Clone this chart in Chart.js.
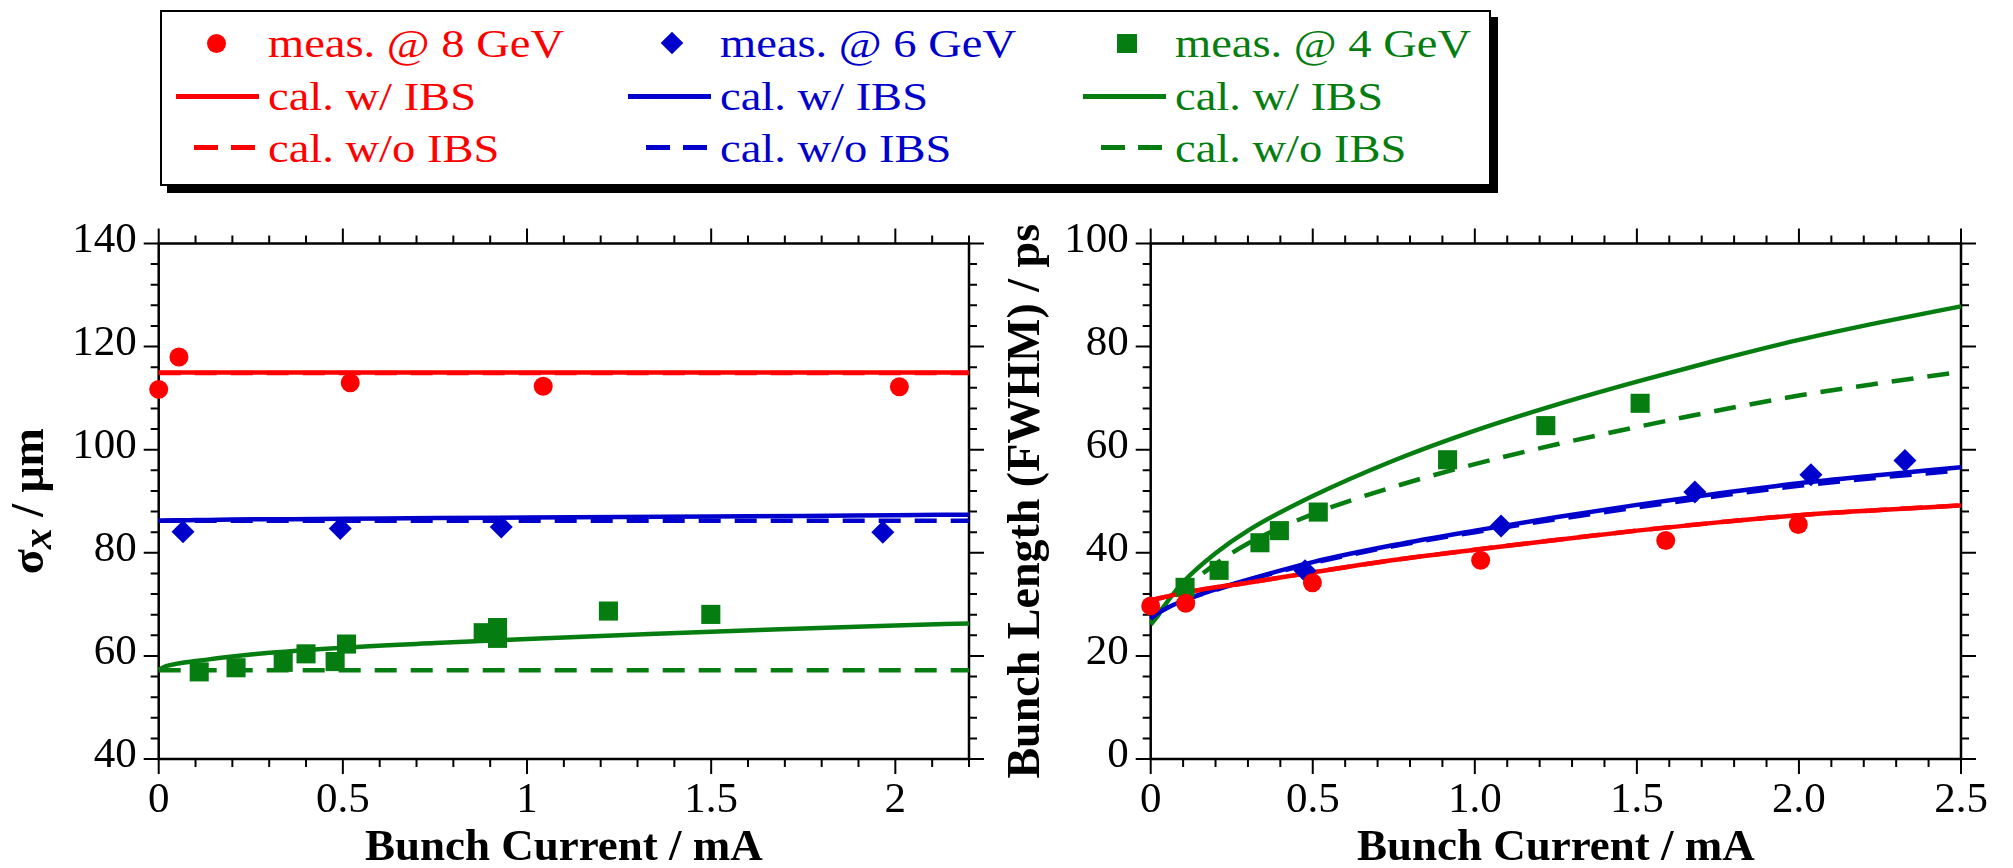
<!DOCTYPE html>
<html>
<head>
<meta charset="utf-8">
<title>Bunch current dependence</title>
<script src="https://cdn.jsdelivr.net/npm/chart.js@4.4.1/dist/chart.umd.min.js"></script>
<style>
  html, body { margin: 0; padding: 0; background: #fff; }
  body { position: relative; width: 2013px; height: 868px; overflow: hidden;
         font-family: "Liberation Serif", "Times New Roman", serif; }
  canvas { position: absolute; top: 200px; }
  #leftChart { left: 0; }
  #rightChart { left: 1000px; }
  #legendBox { position: absolute; left: 160px; top: 10px; width: 1327px; height: 172px;
               border: 2px solid #000; box-shadow: 7px 7px 0 #000; background: #fff; }
  .lab { position: absolute; font-size: 40px; line-height: 40px; white-space: nowrap;
         transform: scaleX(1.163); transform-origin: 0 0; }
  .mk { position: absolute; }
</style>
</head>
<body>
<div id="legendBox"></div>
<div id="legend"></div>
<canvas id="leftChart" width="1000" height="668"></canvas>
<canvas id="rightChart" width="1013" height="668"></canvas>
<script>
Chart.defaults.font.family = "'Liberation Serif', 'Times New Roman', serif";
Chart.defaults.color = '#000';

const FAMILY = "'Liberation Serif', 'Times New Roman', serif";
const RED = '#ff0000';
const BLUE = '#0000cc';
const GREEN = '#067d10';

// ---- left panel: horizontal beam size sigma_x (um) ----
const sxCur8 = [0.0, 0.055, 0.52, 1.044, 2.011];
const sxMeas8 = [111.7, 118.0, 113.0, 112.3, 112.2];
const sxCur6 = [0.066, 0.493, 0.93, 1.966];
const sxMeas6 = [84.1, 84.7, 85.0, 84.0];
const sxCur4 = [0.11, 0.21, 0.338, 0.40, 0.479, 0.51, 0.881, 0.92, 0.92, 1.221, 1.499];
const sxMeas4 = [56.9, 57.7, 58.75, 60.4, 58.9, 62.3, 64.5, 65.5, 63.4, 68.7, 68.05];

const sxCalCur = [0, 0.02, 0.05, 0.1, 0.2, 0.3, 0.5, 0.75, 1.0, 1.25, 1.5, 1.75, 2.0, 2.2];
const sxCal8 = [115.0, 115.0, 115.0, 115.0, 115.0, 115.0, 115.0, 115.0, 115.0, 115.0, 115.0, 115.0, 115.0, 115.0];
const sxCal8NoIbs = [114.9, 114.9, 114.9, 114.9, 114.9, 114.9, 114.9, 114.9, 114.9, 114.9, 114.9, 114.9, 114.9, 114.9];
const sxCal6 = [86.2, 86.25, 86.3, 86.35, 86.45, 86.5, 86.6, 86.75, 86.85, 86.95, 87.05, 87.15, 87.3, 87.4];
const sxCal6NoIbs = [86.2, 86.2, 86.2, 86.2, 86.2, 86.2, 86.2, 86.2, 86.2, 86.2, 86.2, 86.2, 86.2, 86.2];
const sxCal4 = [57.3, 58.0, 58.5, 59.0, 59.9, 60.6, 61.6, 62.5, 63.3, 64.0, 64.7, 65.3, 65.9, 66.3];
const sxCal4NoIbs = [57.2, 57.2, 57.2, 57.2, 57.2, 57.2, 57.2, 57.2, 57.2, 57.2, 57.2, 57.2, 57.2, 57.2];

// ---- right panel: bunch length FWHM (ps) ----
const blCur8 = [0.0, 0.108, 0.499, 1.018, 1.589, 1.998];
const blMeas8 = [29.7, 30.2, 34.2, 38.55, 42.4, 45.5];
const blCur6 = [0.476, 1.081, 1.679, 2.037, 2.327];
const blMeas6 = [36.5, 45.2, 51.8, 55.15, 57.9];
const blCur4 = [0.106, 0.211, 0.337, 0.397, 0.517, 0.916, 1.219, 1.510];
const blMeas4 = [33.3, 36.6, 41.95, 44.3, 47.9, 58.05, 64.67, 69.0];

const blCalCur = [0, 0.02, 0.05, 0.1, 0.2, 0.3, 0.5, 0.75, 1.0, 1.25, 1.5, 1.75, 2.0, 2.25, 2.5];
const blCal8 = [30.8, 31.1, 31.5, 32.2, 33.3, 34.2, 36.2, 38.6, 40.6, 42.5, 44.3, 45.9, 47.3, 48.3, 49.2];
const blCal8NoIbs = [30.8, 31.1, 31.5, 32.2, 33.3, 34.2, 36.2, 38.6, 40.6, 42.5, 44.3, 45.9, 47.3, 48.3, 49.2];
const blCal6 = [27.2, 28.2, 29.3, 30.7, 32.9, 34.8, 38.2, 41.5, 44.3, 46.9, 49.3, 51.5, 53.5, 55.1, 56.6];
const blCal6NoIbs = [27.2, 28.2, 29.3, 30.7, 32.8, 34.7, 38.0, 41.3, 44.0, 46.5, 48.8, 51.0, 53.0, 54.6, 56.0];
const blCal4 = [26.1, 27.6, 30.4, 34.3, 39.9, 44.3, 51.0, 57.9, 63.7, 68.7, 73.2, 77.4, 81.3, 84.7, 87.8];
const blCal4NoIbs = [26.5, 28.0, 30.2, 33.0, 37.8, 41.8, 47.5, 52.8, 57.2, 61.0, 64.4, 67.6, 70.5, 72.9, 75.1];

const energies = ['8 GeV', '6 GeV', '4 GeV'];
const colors = [RED, BLUE, GREEN];

function pts(xs, ys) {
  return xs.map((x, i) => ({ x: x, y: ys[i] }));
}

function measSet(label, xs, ys, color, style, radius) {
  return {
    label: label,
    data: pts(xs, ys),
    showLine: false,
    pointStyle: style,
    pointRadius: radius,
    pointHoverRadius: radius,
    pointBackgroundColor: color,
    pointBorderColor: color,
    pointBorderWidth: 0,
    clip: false
  };
}

function calcSet(label, xs, ys, color, dashed) {
  return {
    label: label,
    data: pts(xs, ys),
    showLine: true,
    borderColor: color,
    borderWidth: 4.5,
    borderDash: dashed ? [22, 14] : [],
    borderCapStyle: 'butt',
    pointRadius: 0,
    cubicInterpolationMode: 'monotone',
    fill: false,
    clip: false
  };
}

function isMajor(v, every) {
  const r = v / every;
  return Math.abs(r - Math.round(r)) < 1e-6;
}

// box around the plot area, outward ticks on all four sides,
// and the numbers under the bottom axis
const frameTicks = {
  id: 'frameTicks',
  beforeDatasetsDraw(chart) {
    const { ctx, chartArea: a, scales } = chart;
    ctx.save();
    ctx.strokeStyle = '#000';
    ctx.lineWidth = 2.5;
    ctx.strokeRect(a.left, a.top, a.right - a.left, a.bottom - a.top);
    ctx.lineWidth = 2;
    ctx.beginPath();
    scales.x.ticks.forEach(t => {
      const px = scales.x.getPixelForValue(t.value);
      const len = t.label !== '' ? 15 : 8;
      ctx.moveTo(px, a.bottom); ctx.lineTo(px, a.bottom + len);
      ctx.moveTo(px, a.top); ctx.lineTo(px, a.top - len);
    });
    scales.y.ticks.forEach(t => {
      const py = scales.y.getPixelForValue(t.value);
      const len = t.label !== '' ? 15 : 8;
      ctx.moveTo(a.left, py); ctx.lineTo(a.left - len, py);
      ctx.moveTo(a.right, py); ctx.lineTo(a.right + len, py);
    });
    ctx.stroke();

    ctx.fillStyle = '#000';
    ctx.font = '43px ' + FAMILY;
    ctx.textAlign = 'center';
    ctx.textBaseline = 'alphabetic';
    scales.x.ticks.forEach(t => {
      if (t.label === '') return;
      ctx.fillText(t.label, scales.x.getPixelForValue(t.value), a.bottom + 53);
    });
    ctx.restore();
  }
};

// sigma_x axis title with the italic subscript
const sigmaTitle = {
  id: 'sigmaTitle',
  afterDraw(chart) {
    const { ctx, chartArea: a } = chart;
    const parts = [
      { t: '\u03c3', f: 'bold 46px ' + FAMILY, dy: 0 },
      { t: 'x', f: 'italic bold 42px ' + FAMILY, dy: 8 },
      { t: ' / \u03bcm', f: 'bold 46px ' + FAMILY, dy: 0 }
    ];
    ctx.save();
    let total = 0;
    parts.forEach(p => { ctx.font = p.f; p.w = ctx.measureText(p.t).width; total += p.w; });
    ctx.translate(43, (a.top + a.bottom) / 2);
    ctx.rotate(-Math.PI / 2);
    ctx.fillStyle = '#000';
    ctx.textBaseline = 'alphabetic';
    let x = -total / 2;
    parts.forEach(p => {
      ctx.font = p.f;
      ctx.fillText(p.t, x, p.dy);
      x += p.w;
    });
    ctx.restore();
  }
};

function xAxis(max, fmt, height, title) {
  return {
    type: 'linear',
    min: 0,
    max: max,
    grid: { display: false, drawTicks: false },
    border: { display: false },
    ticks: {
      display: false,
      stepSize: 0.1,
      autoSkip: false,
      maxTicksLimit: 100,
      callback: v => isMajor(v, 0.5) ? fmt(v) : ''
    },
    title: {
      display: true,
      text: title,
      color: '#000',
      font: { size: 45, weight: 'bold', lineHeight: 1 },
      padding: { top: 0, bottom: -2.5 }
    },
    afterFit: scale => { scale.height = height; }
  };
}

function yAxis(min, max, width, title) {
  return {
    type: 'linear',
    min: min,
    max: max,
    grid: { display: false, drawTicks: false },
    border: { display: false },
    ticks: {
      stepSize: 4,
      autoSkip: false,
      maxTicksLimit: 100,
      padding: 22,
      labelOffset: -3,
      font: { size: 43, lineHeight: 1 },
      color: '#000',
      callback: v => isMajor(v, 20) ? String(v) : ''
    },
    title: {
      display: !!title,
      text: title || '',
      color: '#000',
      font: { size: 46, weight: 'bold', lineHeight: 1 },
      padding: { top: 4, bottom: 0 }
    },
    afterFit: scale => { scale.width = width; }
  };
}

const commonPlugins = {
  legend: { display: false },
  tooltip: { enabled: false }
};

new Chart(document.getElementById('leftChart'), {
  type: 'scatter',
  data: {
    datasets: [
      measSet('meas. @ 8 GeV', sxCur8, sxMeas8, RED, 'circle', 9.5),
      measSet('meas. @ 6 GeV', sxCur6, sxMeas6, BLUE, 'rectRot', 11.5),
      measSet('meas. @ 4 GeV', sxCur4, sxMeas4, GREEN, 'rect', 13.5),
      calcSet('cal. w/ IBS (8 GeV)', sxCalCur, sxCal8, RED, false),
      calcSet('cal. w/ IBS (6 GeV)', sxCalCur, sxCal6, BLUE, false),
      calcSet('cal. w/ IBS (4 GeV)', sxCalCur, sxCal4, GREEN, false),
      calcSet('cal. w/o IBS (8 GeV)', sxCalCur, sxCal8NoIbs, RED, true),
      calcSet('cal. w/o IBS (6 GeV)', sxCalCur, sxCal6NoIbs, BLUE, true),
      calcSet('cal. w/o IBS (4 GeV)', sxCalCur, sxCal4NoIbs, GREEN, true)
    ]
  },
  options: {
    responsive: false,
    animation: false,
    layout: { padding: { left: 0, top: 43.3, right: 31, bottom: 0 } },
    scales: {
      x: xAxis(2.2, v => String(v), 109, 'Bunch Current / mA'),
      y: yAxis(40, 140, 158.7, null)
    },
    plugins: commonPlugins
  },
  plugins: [frameTicks, sigmaTitle]
});

new Chart(document.getElementById('rightChart'), {
  type: 'scatter',
  data: {
    datasets: [
      measSet('meas. @ 8 GeV', blCur8, blMeas8, RED, 'circle', 9.5),
      measSet('meas. @ 6 GeV', blCur6, blMeas6, BLUE, 'rectRot', 11.5),
      measSet('meas. @ 4 GeV', blCur4, blMeas4, GREEN, 'rect', 13.5),
      calcSet('cal. w/ IBS (8 GeV)', blCalCur, blCal8, RED, false),
      calcSet('cal. w/ IBS (6 GeV)', blCalCur, blCal6, BLUE, false),
      calcSet('cal. w/ IBS (4 GeV)', blCalCur, blCal4, GREEN, false),
      calcSet('cal. w/o IBS (8 GeV)', blCalCur, blCal8NoIbs, RED, true),
      calcSet('cal. w/o IBS (6 GeV)', blCalCur, blCal6NoIbs, BLUE, true),
      calcSet('cal. w/o IBS (4 GeV)', blCalCur, blCal4NoIbs, GREEN, true)
    ]
  },
  options: {
    responsive: false,
    animation: false,
    layout: { padding: { left: 0, top: 41, right: 52, bottom: 0 } },
    scales: {
      x: xAxis(2.5, v => (v === 0 ? '0' : v.toFixed(1)), 109, 'Bunch Current / mA'),
      y: yAxis(0, 100, 150.7, 'Bunch Length (FWHM) / ps')
    },
    plugins: commonPlugins
  },
  plugins: [frameTicks]
});

// legend: one column per beam energy
const legendColX = [176, 628, 1083];
const rowBaseline = [57, 110, 162];
const markerKinds = ['circle', 'diamond', 'square'];
const legendEl = document.getElementById('legend');

function addEl(cls, css, text) {
  const d = document.createElement('div');
  d.className = cls;
  Object.assign(d.style, css);
  if (text) d.textContent = text;
  legendEl.appendChild(d);
  return d;
}

energies.forEach((e, i) => {
  const cx = legendColX[i];
  const col = colors[i];
  const texts = ['meas. @ ' + e, 'cal. w/ IBS', 'cal. w/o IBS'];
  texts.forEach((t, r) => {
    addEl('lab', { left: (cx + 92) + 'px', top: (rowBaseline[r] - 33.5) + 'px', color: col }, t);
  });
  const kind = markerKinds[i];
  if (kind === 'circle') {
    addEl('mk', { left: (cx + 31) + 'px', top: '34px', width: '19px', height: '19px',
      borderRadius: '50%', background: col });
  } else if (kind === 'diamond') {
    addEl('mk', { left: (cx + 36) + 'px', top: '35px', width: '16px', height: '16px',
      background: col, transform: 'rotate(45deg)' });
  } else {
    addEl('mk', { left: (cx + 34) + 'px', top: '34px', width: '20px', height: '19px', background: col });
  }
  addEl('mk', { left: cx + 'px', top: '94px', width: '83px', height: '5px', background: col });
  addEl('mk', { left: (cx + 18) + 'px', top: '145px', width: '24px', height: '5px', background: col });
  addEl('mk', { left: (cx + 55) + 'px', top: '145px', width: '24px', height: '5px', background: col });
});
</script>
</body>
</html>
